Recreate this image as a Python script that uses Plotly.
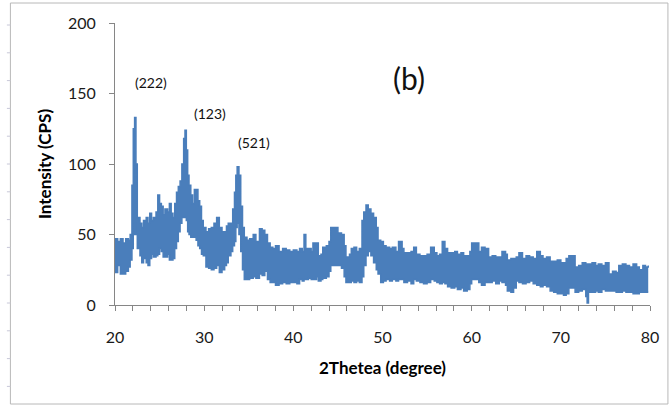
import plotly.graph_objects as go

# 2-theta positions (degree) and the upper/lower envelope of the noisy XRD trace (CPS)
two_theta = [20.0, 20.3, 20.6, 20.9, 21.2, 21.5, 21.7, 21.9, 22.05, 22.2, 22.35, 22.5, 22.8, 23.0, 23.2, 23.5, 23.7, 23.9,
             24.1, 24.3, 24.6, 24.8, 25.0, 25.2, 25.4, 25.6, 25.9, 26.1, 26.3, 26.5, 26.7, 26.9, 27.1, 27.3, 27.5, 27.7,
             27.85, 28.0, 28.15, 28.3, 28.5, 28.7, 28.9, 29.1, 29.3, 29.5, 29.7, 29.9, 30.2, 30.5, 30.8, 31.1, 31.4,
             31.7, 32.0, 32.3, 32.5, 32.7, 33.0, 33.2, 33.4, 33.55, 33.7, 33.9, 34.1, 34.3, 34.5, 34.8, 35.1, 35.5,
             35.8, 36.2, 36.5, 36.8, 37.1, 37.4, 37.7, 38.0, 38.4, 38.8, 39.2, 39.6, 40.0, 40.4, 40.7, 41.0, 41.2,
             41.4, 41.7, 42.0, 42.2, 42.6, 42.8, 43.1, 43.3, 43.7, 44.0, 44.2, 44.6, 45.0, 45.4, 45.7, 45.9, 46.3,
             46.5, 46.8, 47.1, 47.4, 47.7, 47.9, 48.15, 48.4, 48.7, 49.0, 49.3, 49.5, 49.8, 50.1, 50.4, 50.8, 51.1,
             51.5, 51.8, 52.2, 52.4, 52.8, 53.2, 53.5, 53.8, 54.2, 54.6, 55.0, 55.4, 55.8, 56.1, 56.4, 56.7, 57.0,
             57.3, 57.7, 58.1, 58.4, 58.8, 59.1, 59.5, 59.8, 60.0, 60.4, 60.8, 61.1, 61.5, 61.9, 62.3, 62.7, 63.1,
             63.4, 63.8, 64.0, 64.4, 64.7, 65.0, 65.3, 65.7, 66.1, 66.5, 66.9, 67.3, 67.7, 68.0, 68.4, 68.8, 69.2,
             69.6, 70.0, 70.3, 70.6, 70.9, 71.3, 71.6, 72.0, 72.4, 72.8, 72.95, 73.1, 73.5, 73.9, 74.2, 74.6, 75.0,
             75.4, 75.8, 76.2, 76.5, 76.9, 77.3, 77.7, 78.1, 78.5, 78.8, 79.2, 79.5, 79.8]
upper = [47, 45, 47, 44, 47, 46, 50, 85, 125, 133, 100, 62, 58, 55, 60, 62, 58, 65,
         60, 62, 66, 78, 72, 70, 64, 68, 66, 72, 65, 62, 72, 80, 84, 88, 100, 118,
         124, 110, 92, 85, 78, 72, 82, 82, 74, 70, 60, 55, 52, 54, 55, 58, 62,
         55, 52, 52, 56, 58, 58, 68, 80, 92, 98, 92, 70, 55, 48, 46, 47, 50,
         45, 54, 53, 50, 44, 41, 40, 42, 38, 40, 39, 38, 39, 38, 40, 38, 50,
         40, 40, 38, 44, 44, 35, 36, 41, 42, 45, 55, 55, 51, 50, 42, 34, 36,
         40, 41, 38, 40, 60, 66, 71, 68, 65, 62, 55, 46, 45, 42, 41, 40, 41,
         38, 45, 40, 37, 37, 38, 41, 36, 35, 35, 36, 41, 37, 35, 36, 45, 40,
         37, 37, 38, 36, 37, 35, 35, 38, 44, 44, 38, 41, 40, 34, 35, 34, 34,
         38, 36, 32, 33, 33, 34, 37, 33, 35, 34, 33, 38, 35, 33, 34, 31, 31,
         32, 30, 30, 33, 35, 35, 27, 28, 30, 29, 28, 29, 30, 28, 29, 28, 30,
         22, 24, 23, 28, 29, 28, 27, 29, 27, 25, 28, 27, 28]
lower = [23, 28, 22, 22, 24, 27, 32, 40, 50, 58, 50, 40, 35, 30, 33, 30, 28, 33,
         36, 34, 35, 36, 40, 38, 34, 34, 36, 32, 32, 33, 40, 45, 52, 58, 62, 62,
         62, 60, 52, 50, 48, 48, 48, 46, 42, 40, 36, 35, 27, 26, 25, 26, 28,
         23, 25, 28, 30, 35, 38, 42, 45, 55, 58, 50, 38, 25, 18, 18, 19, 20,
         19, 22, 21, 24, 18, 16, 16, 14, 15, 16, 15, 16, 16, 15, 18, 17, 18,
         18, 19, 18, 18, 20, 17, 18, 19, 20, 24, 28, 28, 28, 26, 20, 16, 16,
         17, 16, 17, 16, 20, 28, 35, 38, 35, 30, 25, 22, 16, 17, 18, 17, 18,
         17, 18, 18, 16, 17, 15, 18, 17, 16, 15, 16, 18, 17, 16, 15, 16, 15,
         13, 12, 13, 11, 12, 10, 11, 15, 18, 18, 16, 14, 16, 16, 17, 15, 17,
         16, 14, 10, 9, 12, 17, 16, 15, 16, 17, 15, 14, 13, 14, 13, 10, 9,
         8, 8, 7, 8, 12, 12, 9, 10, 11, 6, 1.5, 9, 9, 10, 9, 11, 10,
         10, 10, 9, 9, 10, 9, 9, 8, 8, 9, 9, 9, 9]

peak_labels = ["(222)", "(123)", "(521)"]
peak_label_x = [24.0, 30.7, 35.6]
peak_label_y = [158, 136, 115]
panel_label = "(b)"

x_ticks = [20, 30, 40, 50, 60, 70, 80]
y_ticks = [0, 50, 100, 150, 200]

blue = "#4a7ebb"
font_family = "Lato, 'Liberation Sans', Arial, sans-serif"

W, H = 671, 405
L, R, T, B = 115, 19, 23, 100
pw, ph = W - L - R, H - T - B


def px_x(p):
    return (p - L) / pw


def px_y(p):
    return (H - B - p) / ph


fig = go.Figure()
fig.add_trace(go.Scatter(x=two_theta, y=lower, mode="lines", line=dict(color=blue, width=1.5, shape="hv"),
                         showlegend=False, hoverinfo="skip"))
fig.add_trace(go.Scatter(x=two_theta, y=upper, mode="lines", line=dict(color=blue, width=1.5, shape="hv"),
                         fill="tonexty", fillcolor=blue, showlegend=False))

for txt, xx, yy in zip(peak_labels, peak_label_x, peak_label_y):
    fig.add_annotation(x=xx, y=yy, text=txt, showarrow=False, font=dict(size=14, color="#111", family=font_family))
fig.add_annotation(x=53.0, y=161, text=panel_label, showarrow=False, font=dict(size=30, color="#111", family=font_family))

# outer chart frame
fig.add_shape(type="rect", xref="paper", yref="paper", x0=px_x(10), x1=px_x(670), y0=px_y(404), y1=px_y(3),
              line=dict(color="#b8b8b8", width=1), fillcolor="rgba(0,0,0,0)", layer="below")
# faint ruler marks left of the frame
for k in range(14):
    yy = 25 + k * 27.8
    fig.add_shape(type="line", xref="paper", yref="paper", x0=px_x(6.5), x1=px_x(10), y0=px_y(yy), y1=px_y(yy),
                  line=dict(color="#c8c8d8", width=1))

axis_common = dict(showgrid=False, zeroline=False, showline=True, linecolor="#868686", linewidth=1,
                   ticks="outside", ticklen=5, tickcolor="#868686",
                   tickfont=dict(size=16, color="#1a1a1a", family=font_family))

fig.update_xaxes(range=[20, 80], tickvals=x_ticks, ticktext=[str(v) for v in x_ticks],
                 minor=dict(dtick=2, ticks="outside", ticklen=5, tickcolor="#868686"),
                 ticklabelstandoff=13,
                 title=dict(text="<b>2Thetea (degree)</b>", font=dict(size=17, color="#000", family=font_family), standoff=16),
                 **axis_common)
fig.update_yaxes(range=[0, 200], tickvals=y_ticks, ticktext=[str(v) for v in y_ticks],
                 ticklabelstandoff=10,
                 title=dict(text="<b>Intensity (CPS)</b>", font=dict(size=17, color="#000", family=font_family), standoff=12),
                 **axis_common)

fig.update_layout(width=W, height=H, margin=dict(l=L, r=R, t=T, b=B),
                  paper_bgcolor="white", plot_bgcolor="white")

fig.write_html("out.html", config={"displayModeBar": False},
               post_script="document.body.style.margin='0';document.body.style.overflow='hidden';")
